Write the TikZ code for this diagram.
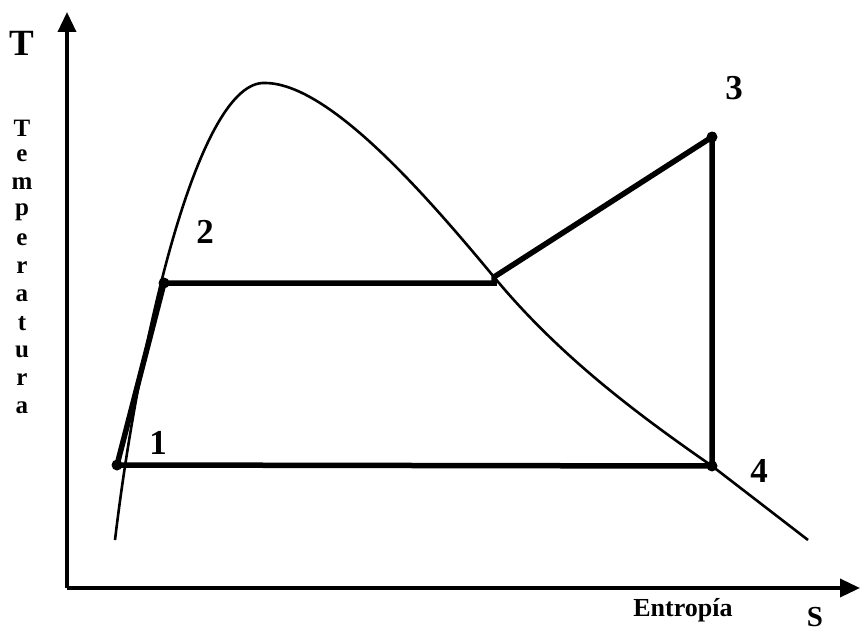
\documentclass[tikz,border=0pt]{standalone}
\usepackage{fontspec}
\setmainfont{Liberation Serif}
\usetikzlibrary{arrows.meta}
\begin{document}
\begin{tikzpicture}[x=1pt,y=-1pt,
  axis/.style={line width=3.5pt,-{Triangle[length=20pt,width=18pt]}},
  cycleline/.style={line width=5.5pt,line cap=round},
  dome/.style={line width=2.6pt},
  ptdot/.style={circle,fill=black,inner sep=0pt,minimum size=11pt},
  numlbl/.style={font=\bfseries\fontsize{35}{37}\selectfont,inner sep=0pt},
  letter/.style={font=\bfseries\fontsize{25}{26}\selectfont,inner sep=0pt}]
\useasboundingbox (0,0) rectangle (861,631);
% axes
\coordinate (o) at (67,588);
\coordinate (ytip) at (67,12);
\coordinate (xtip) at (860,588);
\draw[axis] (o) -- (ytip);
\draw[axis] (o) -- (xtip);
% dome
\coordinate (d0) at (115,540);
\coordinate (top) at (265,83);
\coordinate (q) at (494,277);
\coordinate (dend) at (808,540);
\draw[dome] (d0) .. controls (140,330) and (200,80) .. (top)
  .. controls (330,83) and (430,200) .. (q)
  .. controls (560,357) and (640,416) .. (712,466) -- (dend);
% cycle points
\node[ptdot] (p1) at (117,465) {};
\node[ptdot] (p2) at (164,283) {};
\node[ptdot] (p3) at (712,137) {};
\node[ptdot] (p4) at (712,466) {};
\draw[cycleline] (p1.center) -- (p2.center) -- (p2.center -| q) -- (q) -- (p3.center) -- (p4.center) -- (p1.center);
% labels
\node[numlbl] (l1) at (158,443) {1};
\node[numlbl] (l2) at (205,232) {2};
\node[numlbl] (l3) at (734,88) {3};
\node[numlbl] (l4) at (759,471) {4};
\node[font=\bfseries\fontsize{37}{39}\selectfont,inner sep=0pt] (tl) at (22,43) {T};
\foreach \c [count=\i from 0] in {T,e,m,p,e,r,a,t,u,r,a}
  \node[letter] (tv\i) at (22,128+28*\i) {\c};
\node[font=\bfseries\fontsize{26}{28}\selectfont,inner sep=0pt] (ent) at (683,610) {Entropía};
\node[font=\bfseries\fontsize{29}{31}\selectfont,inner sep=0pt,anchor=north] (s) at (815,607) {S};
\end{tikzpicture}
\end{document}
